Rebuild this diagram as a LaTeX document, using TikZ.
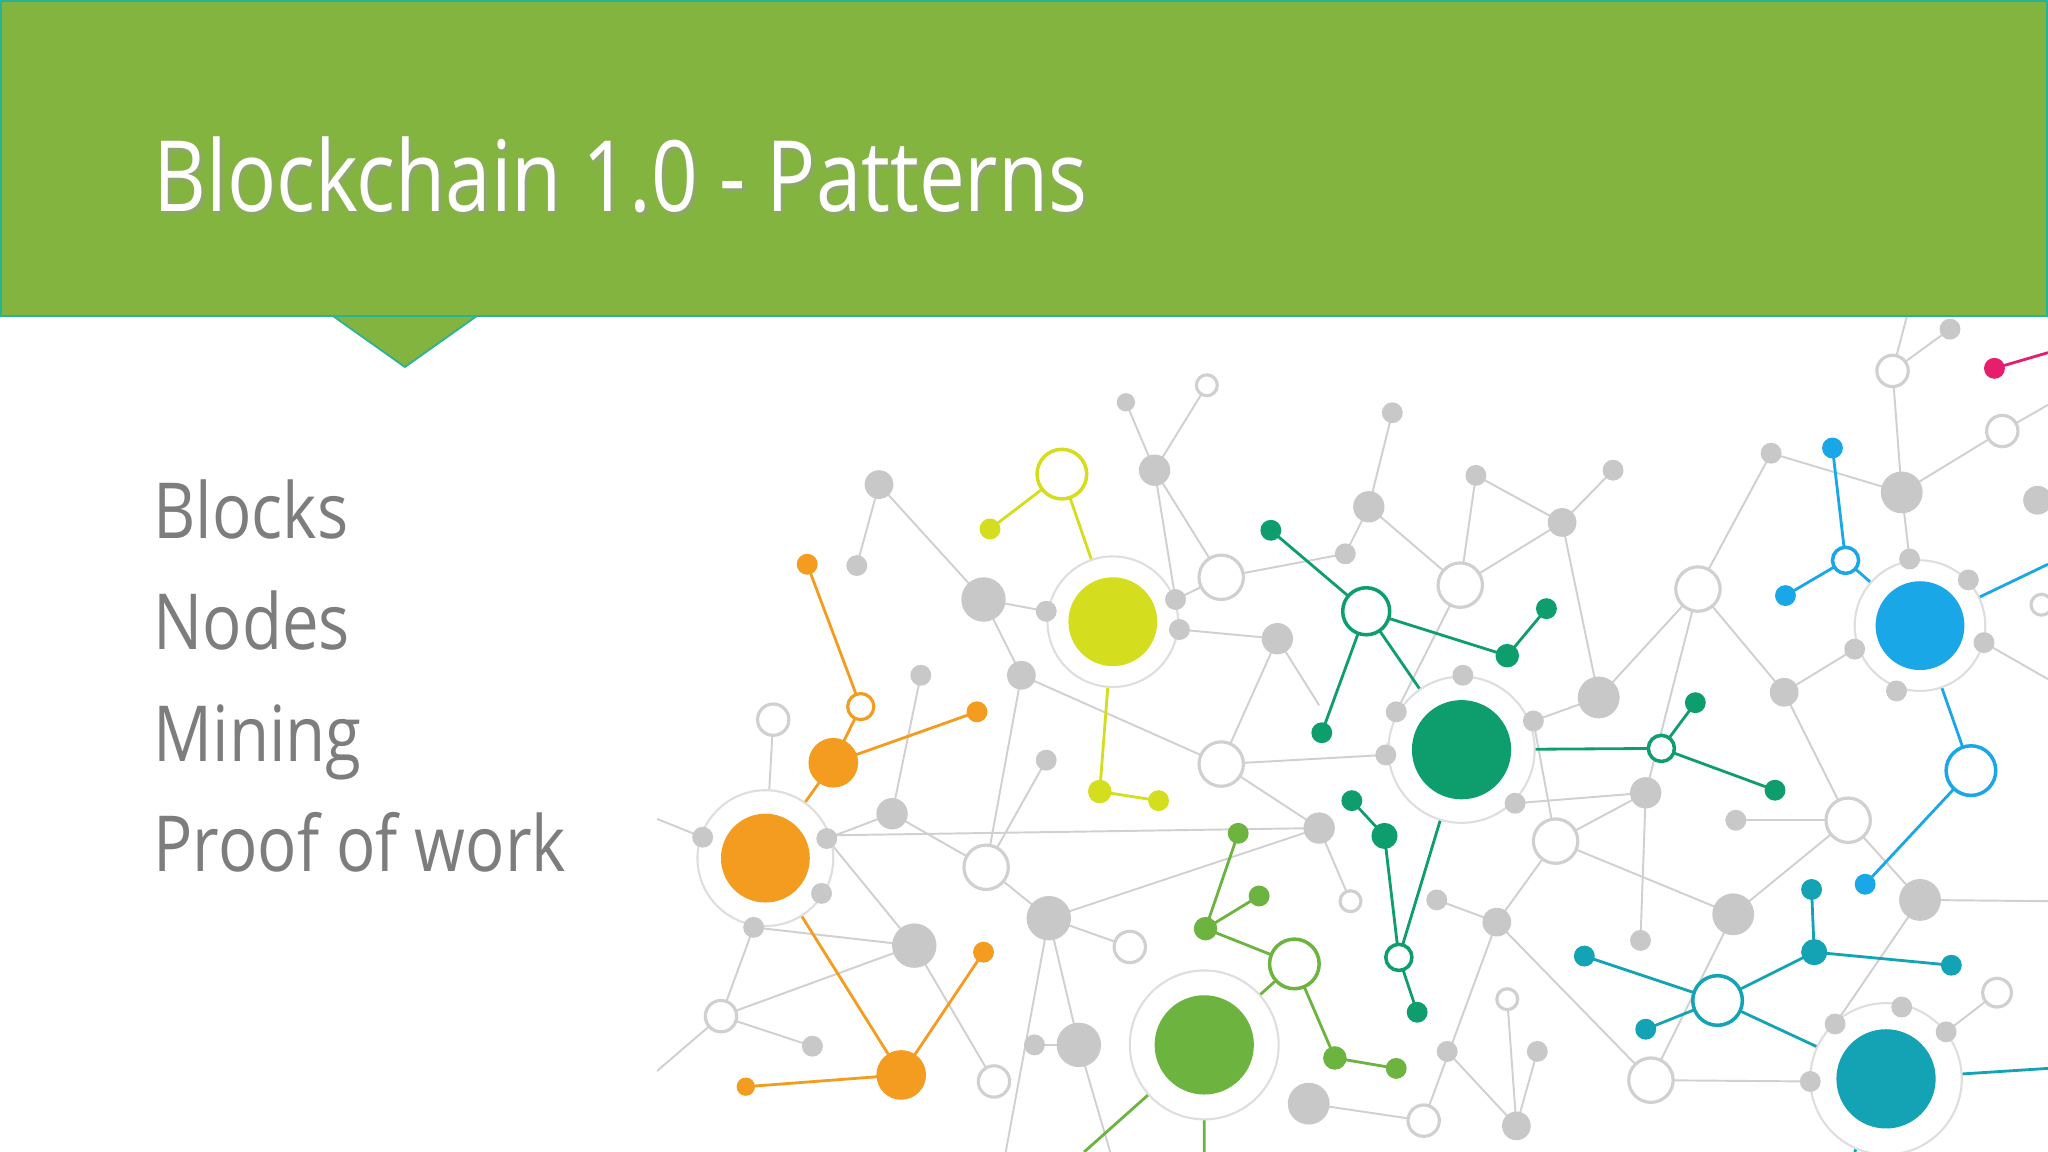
\documentclass[tikz,border=0pt]{standalone}
\usepackage{fontspec}
\setmainfont{Open Sans}
\definecolor{hdr}{RGB}{132,180,64}
\definecolor{hline}{RGB}{40,178,150}
\definecolor{txt}{RGB}{125,125,125}
\definecolor{gfill}{RGB}{200,200,200}
\definecolor{gline}{RGB}{208,208,208}
\definecolor{halo}{RGB}{222,222,222}
\definecolor{cor}{RGB}{243,156,31}
\definecolor{cye}{RGB}{212,221,30}
\definecolor{cgt}{RGB}{14,158,110}
\definecolor{clg}{RGB}{109,179,63}
\definecolor{cbl}{RGB}{26,167,232}
\definecolor{cte}{RGB}{19,163,180}
\definecolor{cpk}{RGB}{230,30,110}
\newcommand{\narrowtext}[2]{\scalebox{#1}[1]{#2}}
\begin{document}
\begin{tikzpicture}[x=0.013061cm,y=-0.013061cm,
  edge/.style={draw=gline,line width=0.55pt},
  cedge/.style={line width=0.8pt},
  bullet/.style={anchor=base west,text=txt,font=\fontsize{22}{26}\selectfont,inner sep=0}]
\useasboundingbox (0,0) rectangle (1568,882);
\fill[white] (0,0) rectangle (1568,882);
\begin{scope}
\clip (503,242) rectangle (1568,882);
\foreach \n/\x/\y in {a1/862/308,a2/884/360,a3/673/371,a4/656/433,a5/753/459,a6/801/468,a7/782/517,a8/705/517,a9/801/582,a10/683/623,a11/633/642,a12/538/641,a13/577/710,a14/629/684,a15/700/724,a16/622/801,a17/803/703,a18/826/800,a19/792/800,a20/1002/845,a21/1010/634,a22/1048/388,a23/1066/316,a24/1130/364,a25/1196/400,a26/1235/360,a27/1030/424,a28/978/489,a29/900/459,a30/903/482,a31/1120/517,a32/1174/552,a33/1224/534,a34/1069/545,a35/1061/578,a36/1260/607,a37/1329/628,a38/1327/700,a39/1146/706,a40/1100/689,a41/1256/720,a42/1160/615,a43/1108/805,a44/1177/805,a45/1161/862,a46/1356/347,a47/1456/377,a48/1462/428,a49/1507/444,a50/1366/530,a51/1420/497,a52/1452/529,a53/1519/492,a54/1470/689,a55/1493/252,a56/1560/383,a57/1405/784,a58/1456/771,a59/1490/790,a60/1386/828,
 o1/924/295,o2/935/442,o3/1118/448,o4/1300/451,o5/935/585,o6/1191/644,o7/755/664,o8/592/551,o9/552/778,o10/761/828,o11/865/725,o12/1034/690,o13/1090/858,o14/1154/765,o15/1264/827,o16/1415/628,o17/1449/284,o18/1533/330,o19/1529/760,o20/1563/463,
 Y/852/476,O/586/657,G/1119/574,L/922/800,B/1470/479,T/1444/826,
 e1/503/627,e2/503/820,e3/770/882,e4/850/882,e5/1568/690,e6/1460/242,e7/1568/520,e8/1568/310,e9/1568/383,e10/1010/540}
  {\coordinate (\n) at (\x,\y);}
\foreach \p/\q in {a1/a2,o1/a2,a2/o2,a2/a29,a3/a4,a3/a5,a5/a6,a6/Y,a5/a7,a7/o7,a7/o5,a9/o7,a8/a10,a10/a11,a10/o7,o7/a17,a17/a21,a17/o11,a17/a18,a17/e3,a18/a19,a18/e4,a15/a11,a15/o10,a15/a13,o9/a13,o9/a16,o9/a15,o9/e2,a12/e1,a13/O,a14/O,o8/O,o2/a27,o2/a29,a29/Y,a30/a28,a28/o5,o5/a35,a35/a34,a34/o3,o3/a24,a24/a25,a25/a26,a25/o3,a25/a33,a22/a23,a22/o3,a27/a22,a33/o4,o4/a46,o4/a50,a33/a32,a32/o6,o6/a36,a36/a41,a36/o4,o6/a39,a39/a40,a39/o13,a39/o15,o14/a45,a43/a45,a44/a45,o13/a20,a21/a12,a21/o12,a21/o5,a38/o16,a38/o15,a38/o6,o16/a50,o16/a54,o16/a37,a54/e5,a54/a57,a57/T,a59/o19,a60/o15,a47/a46,a47/o18,a47/o17,o17/a55,o17/e6,a47/a48,a50/a51,a51/B,a52/B,a53/e7,o18/e8,a56/e9,a28/e10,a31/G,a42/a36,a58/a59,a49/B,a48/a49}
  {\draw[edge] (\p) -- (\q);}
\coordinate (or1) at (618,432); \coordinate (or2) at (659,541); \coordinate (or3) at (638,584);
\coordinate (or4) at (748,545); \coordinate (or5) at (690,823); \coordinate (or6) at (753,729); \coordinate (or7) at (571,832);
\draw[cor,cedge] (or1)--(or2)--(or3)--(or4) (or3)--(O)--(or5)--(or6) (or5)--(or7);
\coordinate (ye1) at (813,363); \coordinate (ye2) at (758,405); \coordinate (ye3) at (842,606); \coordinate (ye4) at (887,613);
\draw[cye,cedge] (ye2)--(ye1)--(Y)--(ye3)--(ye4);
\coordinate (gt1) at (973,406); \coordinate (gt2) at (1046,468); \coordinate (gt3) at (1012,561); \coordinate (gt4) at (1154,502);
\coordinate (gt5) at (1184,466); \coordinate (gt6) at (1272,573); \coordinate (gt7) at (1298,538); \coordinate (gt8) at (1359,605);
\coordinate (gt9) at (1071,733); \coordinate (gt10) at (1060,640); \coordinate (gt11) at (1035,613); \coordinate (gt12) at (1085,775);
\draw[cgt,cedge] (gt1)--(gt2)--(gt3) (gt2)--(gt4)--(gt5) (gt2)--(G)--(gt6)--(gt7) (gt6)--(gt8) (G)--(gt9)--(gt10)--(gt11) (gt9)--(gt12);
\coordinate (lg1) at (991,738); \coordinate (lg2) at (923,711); \coordinate (lg3) at (948,638); \coordinate (lg4) at (964,686);
\coordinate (lg5) at (1022,810); \coordinate (lg6) at (1069,818); \coordinate (lg7) at (830,882); \coordinate (lg8) at (922,882);
\draw[clg,cedge] (L)--(lg1)--(lg2)--(lg3) (lg2)--(lg4) (lg1)--(lg5)--(lg6) (L)--(lg7) (L)--(lg8);
\coordinate (bl1) at (1403,343); \coordinate (bl2) at (1413,429); \coordinate (bl3) at (1367,456); \coordinate (bl4) at (1568,432);
\coordinate (bl5) at (1509,590); \coordinate (bl6) at (1428,677);
\draw[cbl,cedge] (bl1)--(bl2)--(bl3) (bl2)--(B)--(bl4) (B)--(bl5)--(bl6);
\coordinate (te1) at (1213,732); \coordinate (te2) at (1315,766); \coordinate (te3) at (1260,788); \coordinate (te4) at (1389,729);
\coordinate (te5) at (1387,681); \coordinate (te6) at (1494,739); \coordinate (te7) at (1568,818); \coordinate (te8) at (1420,882);
\draw[cte,cedge] (te1)--(te2)--(te3) (te2)--(te4)--(te5) (te4)--(te6) (te2)--(T)--(te7) (T)--(te8);
\coordinate (pk1) at (1527,282); \coordinate (pk2) at (1568,270);
\draw[cpk,cedge] (pk1)--(pk2);
\foreach \n/\r in {Y/50,O/52,G/56,L/57,B/50,T/58}
  {\draw[halo,line width=0.6pt,fill=white] (\n) circle[radius=\r*0.3716pt];}
\foreach \n/\r in {a1/7,a2/12,a3/11,a4/8,a5/17,a6/8,a7/11,a8/8,a9/8,a10/12,a11/8,a12/8,a13/8,a14/8,a15/17,a16/8,a17/17,a18/17,a19/8,a20/16,a21/12,a22/12,a23/8,a24/8,a25/11,a26/8,a27/8,a28/12,a29/8,a30/8,a31/8,a32/8,a33/16,a34/8,a35/8,a36/12,a37/8,a38/16,a39/11,a40/8,a41/8,a42/8,a43/8,a44/8,a45/11,a46/8,a47/16,a48/8,a49/8,a50/11,a51/8,a52/8,a53/8,a54/16,a55/8,a56/11,a57/8,a58/8,a59/8,a60/8}
  {\fill[gfill] (\n) circle[radius=\r*0.3716pt];}
\foreach \n/\r in {o1/8,o2/17,o3/17,o4/17,o5/17,o6/17,o7/17,o8/12,o9/12,o10/12,o11/12,o12/8,o13/12,o14/8,o15/17,o16/17,o17/12,o18/12,o19/11,o20/8}
  {\draw[gline,line width=0.9pt,fill=white] (\n) circle[radius=\r*0.3716pt];}
\fill[cor] (O) circle[radius=34*0.3716pt] (or3) circle[radius=19*0.3716pt] (or5) circle[radius=19*0.3716pt]
  (or1) circle[radius=8*0.3716pt] (or4) circle[radius=8*0.3716pt] (or6) circle[radius=8*0.3716pt] (or7) circle[radius=7*0.3716pt];
\draw[cor,line width=0.9pt,fill=white] (or2) circle[radius=10*0.3716pt];
\fill[cye] (Y) circle[radius=34*0.3716pt] (ye2) circle[radius=8*0.3716pt] (ye3) circle[radius=9*0.3716pt] (ye4) circle[radius=8*0.3716pt];
\draw[cye,line width=1pt,fill=white] (ye1) circle[radius=19*0.3716pt];
\fill[cgt] (G) circle[radius=38*0.3716pt] (gt1) circle[radius=8*0.3716pt] (gt3) circle[radius=8*0.3716pt] (gt4) circle[radius=9*0.3716pt]
  (gt5) circle[radius=8*0.3716pt] (gt7) circle[radius=8*0.3716pt] (gt8) circle[radius=8*0.3716pt] (gt10) circle[radius=10*0.3716pt]
  (gt11) circle[radius=8*0.3716pt] (gt12) circle[radius=8*0.3716pt];
\draw[cgt,line width=1pt,fill=white] (gt2) circle[radius=18*0.3716pt] (gt6) circle[radius=10*0.3716pt] (gt9) circle[radius=10*0.3716pt];
\fill[clg] (L) circle[radius=38*0.3716pt] (lg2) circle[radius=9*0.3716pt] (lg3) circle[radius=8*0.3716pt] (lg4) circle[radius=8*0.3716pt]
  (lg5) circle[radius=9*0.3716pt] (lg6) circle[radius=8*0.3716pt];
\draw[clg,line width=1pt,fill=white] (lg1) circle[radius=19*0.3716pt];
\fill[cbl] (B) circle[radius=34*0.3716pt] (bl1) circle[radius=8*0.3716pt] (bl3) circle[radius=8*0.3716pt] (bl6) circle[radius=8*0.3716pt];
\draw[cbl,line width=1pt,fill=white] (bl2) circle[radius=10*0.3716pt] (bl5) circle[radius=19*0.3716pt];
\fill[cte] (T) circle[radius=38*0.3716pt] (te1) circle[radius=8*0.3716pt] (te3) circle[radius=8*0.3716pt] (te4) circle[radius=10*0.3716pt]
  (te5) circle[radius=8*0.3716pt] (te6) circle[radius=8*0.3716pt];
\draw[cte,line width=1pt,fill=white] (te2) circle[radius=19*0.3716pt];
\fill[cpk] (pk1) circle[radius=8*0.3716pt];
\end{scope}
\fill[hdr] (0,0) rectangle (1568,242);
\fill[hdr] (255,242) -- (310,281) -- (365,242) -- cycle;
\draw[hline,line width=0.5pt] (0,242) -- (255,242) -- (310,281) -- (365,242) -- (1568,242);
\draw[hline,line width=0.5pt] (0.5,0.5) rectangle (1567.5,242);
\node (shadow) [anchor=base west,text=black!40,opacity=0.5,inner sep=0,font=\fontsize{28}{32}\selectfont] at (119,164) {\narrowtext{0.83}{Blockchain 1.0 - Patterns}};
\node (title) [anchor=base west,text=white,inner sep=0,font=\fontsize{28}{32}\selectfont] at (117,162) {\narrowtext{0.83}{Blockchain 1.0 - Patterns}};
\node (b1) [bullet] at (117,412) {\narrowtext{0.845}{Blocks}};
\node (b2) [bullet] at (117,497) {\narrowtext{0.845}{Nodes}};
\node (b3) [bullet] at (117,583) {\narrowtext{0.845}{Mining}};
\node (b4) [bullet] at (117,667) {\narrowtext{0.845}{Proof of work}};
\end{tikzpicture}
\end{document}
